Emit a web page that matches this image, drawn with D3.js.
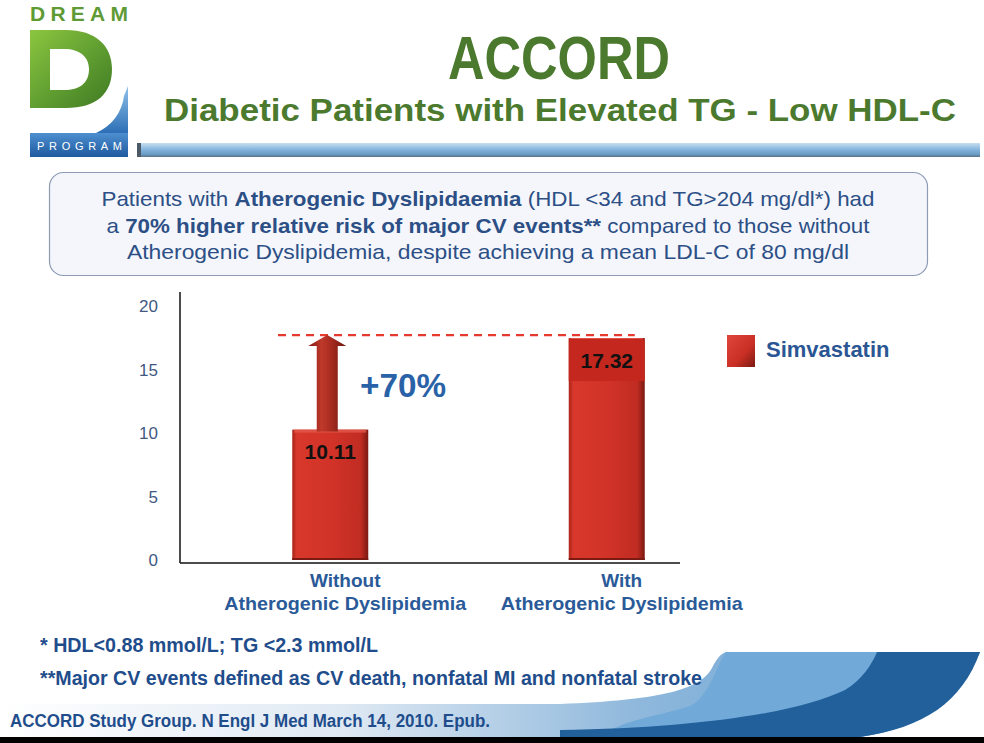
<!DOCTYPE html>
<html>
<head>
<meta charset="utf-8">
<script src="https://cdn.jsdelivr.net/npm/d3@7"></script>
<style>
  html, body { margin: 0; padding: 0; background: #fff; }
  svg { display: block; }
</style>
</head>
<body>
<svg id="chart" width="984" height="743"></svg>
<script>
// ---------- data ----------
const categoriesLine1 = ["Without", "With"];
const categoriesLine2 = ["Atherogenic Dyslipidemia", "Atherogenic Dyslipidemia"];
const simvastatinValues = [10.11, 17.32];
const valueLabels = ["10.11", "17.32"];
const yTicks = [0, 5, 10, 15, 20];
const seriesName = "Simvastatin";
const changeLabel = "+70%";
const titleText = "ACCORD";
const subtitleText = "Diabetic Patients with Elevated TG - Low HDL-C";
const boxLines = [
  [["Patients with ", false], ["Atherogenic Dyslipidaemia", true], [" (HDL <34 and TG>204 mg/dl*) had", false]],
  [["a ", false], ["70% higher relative risk of major CV events**", true], [" compared to those without", false]],
  [["Atherogenic Dyslipidemia, despite achieving a mean LDL-C of 80 mg/dl", false]]
];
const footnotes = ["* HDL<0.88 mmol/L; TG <2.3 mmol/L", "**Major CV events defined as CV death, nonfatal MI and nonfatal stroke"];
const citation = "ACCORD Study Group. N Engl J Med March 14, 2010. Epub.";

// ---------- setup ----------
const svg = d3.select("#chart");
const defs = svg.append("defs");
function linGrad(id, x1, y1, x2, y2, stops) {
  const g = defs.append("linearGradient").attr("id", id)
    .attr("x1", x1).attr("y1", y1).attr("x2", x2).attr("y2", y2);
  stops.forEach(s => g.append("stop").attr("offset", s[0]).attr("stop-color", s[1]));
}
linGrad("barGrad", 0, 0, 1, 0, [[0, "#a9241a"], [0.06, "#d8382b"], [0.5, "#d23328"], [0.9, "#c12c22"], [1, "#7a1a12"]]);
linGrad("arrowGrad", 0, 0, 1, 0, [[0, "#7e1b12"], [0.35, "#c0392b"], [0.6, "#a82b20"], [1, "#6e160f"]]);
linGrad("legGrad", 0, 0, 1, 1, [[0, "#e0463a"], [0.6, "#c92f24"], [1, "#7a1a12"]]);
linGrad("barTitle", 0, 0, 0, 1, [[0, "#c8def0"], [0.45, "#86b6dd"], [0.8, "#6a9cc6"], [1, "#5a7288"]]);
linGrad("dGrad", 0, 0, 1, 1, [[0, "#8cc63f"], [0.5, "#62a032"], [1, "#3f7a22"]]);
linGrad("blueLogo", 0, 0, 0, 1, [[0, "#8fc1ea"], [1, "#2d6fb5"]]);
linGrad("progGrad", 0, 0, 0, 1, [[0, "#4d8fd0"], [1, "#1f5a9e"]]);
linGrad("bandGrad", 0, 0, 1, 0, [[0, "#ffffff"], [0.35, "#dfe9f3"], [0.65, "#8fb8dc"], [1, "#5f9ccf"]]);

// ---------- logo ----------
const logo = svg.append("g");
logo.append("text").attr("x", 30).attr("y", 21).attr("textLength", 98).attr("lengthAdjust", "spacing")
  .attr("font-family", "Liberation Sans, Arial").attr("font-weight", "bold")
  .attr("font-size", 21).attr("fill", "#5f9a35").text("DREAM");
logo.append("path")
  .attr("d", "M30,30 L66,30 C96,30 112,46 112,69 C112,94 96,108 66,108 L30,108 Z M50,49 L64,49 C80,49 89,57 89,69 C89,83 80,90 64,90 L50,90 Z")
  .attr("fill-rule", "evenodd").attr("fill", "url(#dGrad)");
logo.append("path")
  .attr("d", "M128,86 L128,133 L96,133 C112,126 122,112 124,96 Z")
  .attr("fill", "url(#blueLogo)");
logo.append("rect").attr("x", 30).attr("y", 133).attr("width", 98).attr("height", 24).attr("fill", "url(#progGrad)");
logo.append("text").attr("x", 37).attr("y", 150).attr("textLength", 85).attr("lengthAdjust", "spacing")
  .attr("font-family", "Liberation Sans, Arial").attr("font-size", 11).attr("fill", "#ffffff").text("PROGRAM");

// ---------- title ----------
svg.append("text").attr("x", 559).attr("y", 79).attr("text-anchor", "middle")
  .attr("textLength", 222).attr("lengthAdjust", "spacingAndGlyphs")
  .attr("font-family", "Liberation Sans, Arial").attr("font-weight", "bold").attr("font-size", 61)
  .attr("fill", "#4b7a2e").text(titleText);
svg.append("text").attr("x", 560).attr("y", 121).attr("text-anchor", "middle")
  .attr("textLength", 792).attr("lengthAdjust", "spacingAndGlyphs")
  .attr("font-family", "Liberation Sans, Arial").attr("font-weight", "bold").attr("font-size", 31)
  .attr("fill", "#4b7a2e").text(subtitleText);
svg.append("rect").attr("x", 137).attr("y", 143).attr("width", 843).attr("height", 14).attr("fill", "url(#barTitle)");
svg.append("rect").attr("x", 137).attr("y", 143).attr("width", 4).attr("height", 14).attr("fill", "#4c5966");

// ---------- message box ----------
svg.append("rect").attr("x", 49.5).attr("y", 172.5).attr("width", 878).attr("height", 103).attr("rx", 14)
  .attr("fill", "#f4f6fb").attr("stroke", "#8d9bb3").attr("stroke-width", 1.2);
const lineLengths = [773, 763, 722];
boxLines.forEach((parts, i) => {
  const t = svg.append("text").attr("x", 488).attr("y", 206 + i * 26.5).attr("text-anchor", "middle")
    .attr("textLength", lineLengths[i]).attr("lengthAdjust", "spacingAndGlyphs")
    .attr("font-family", "Liberation Sans, Arial").attr("font-size", 21).attr("fill", "#2c4f86");
  parts.forEach(p => t.append("tspan").attr("font-weight", p[1] ? "bold" : "normal").text(p[0]));
});

// ---------- chart ----------
const y = d3.scaleLinear().domain([0, 20]).range([558, 304]);
const xCat = d3.scaleBand().domain(categoriesLine1).range([207, 760]);
const barW = 76;
const barOffset = -15;
const barCx = c => xCat(c) + xCat.bandwidth() / 2 + barOffset;

// y axis labels
const yAxis = d3.axisLeft(y).tickValues(yTicks).tickSize(0).tickPadding(0).tickFormat(d3.format("d"));
const yG = svg.append("g").attr("transform", "translate(158,0)").call(yAxis);
yG.select(".domain").remove();
yG.selectAll("text").attr("font-family", "Liberation Sans, Arial").attr("font-size", 17)
  .attr("fill", "#41597f").attr("dy", "0.45em");

// axes lines
svg.append("line").attr("x1", 180).attr("x2", 180).attr("y1", 292).attr("y2", 563).attr("stroke", "#111").attr("stroke-width", 1.5);
svg.append("line").attr("x1", 180).attr("x2", 680).attr("y1", 563).attr("y2", 563).attr("stroke", "#111").attr("stroke-width", 1.5);

// bars
const bars = svg.append("g");
categoriesLine1.forEach((c, i) => {
  const cx = barCx(c);
  const top = y(simvastatinValues[i]);
  bars.append("rect").attr("x", cx - barW / 2).attr("y", top).attr("width", barW)
    .attr("height", y(0) + 2 - top).attr("fill", "url(#barGrad)");
  bars.append("rect").attr("x", cx - barW / 2 + 2).attr("y", top).attr("width", barW - 4).attr("height", 3)
    .attr("fill", "#e4574b").attr("opacity", 0.8);
  bars.append("rect").attr("x", cx - barW / 2).attr("y", y(0)).attr("width", barW).attr("height", 2).attr("fill", "#7a1a12");
});

// value label box on second bar
const c2 = barCx(categoriesLine1[1]);
bars.append("rect").attr("x", c2 - barW / 2).attr("y", y(simvastatinValues[1]) + 1).attr("width", barW).attr("height", 42)
  .attr("fill", "#c4271d");
svg.append("text").attr("x", c2).attr("y", y(simvastatinValues[1]) + 30).attr("text-anchor", "middle")
  .attr("font-family", "Liberation Sans, Arial").attr("font-weight", "bold").attr("font-size", 21)
  .attr("fill", "#111").text(valueLabels[1]);
const c1 = barCx(categoriesLine1[0]);
svg.append("text").attr("x", c1).attr("y", y(simvastatinValues[0]) + 29).attr("text-anchor", "middle")
  .attr("font-family", "Liberation Sans, Arial").attr("font-weight", "bold").attr("font-size", 21)
  .attr("fill", "#111").text(valueLabels[0]);

// dashed reference line
const refY = y(simvastatinValues[1]) - 3;
svg.append("line").attr("x1", 278).attr("x2", c2 + 28).attr("y1", refY).attr("y2", refY)
  .attr("stroke", "#e53a30").attr("stroke-width", 2.2).attr("stroke-dasharray", "8,6");

// arrow from bar 1 up to level of bar 2
const ax = c1 - 3;
const aBase = y(simvastatinValues[0]) + 2;
const aTip = refY;
const arrowPath = d3.path();
arrowPath.moveTo(ax - 10.5, aBase);
arrowPath.lineTo(ax - 10.5, aTip + 11);
arrowPath.lineTo(ax - 19, aTip + 11);
arrowPath.lineTo(ax, aTip);
arrowPath.lineTo(ax + 19, aTip + 11);
arrowPath.lineTo(ax + 10.5, aTip + 11);
arrowPath.lineTo(ax + 10.5, aBase);
arrowPath.closePath();
svg.append("path").attr("d", arrowPath.toString()).attr("fill", "url(#arrowGrad)");

svg.append("text").attr("x", 360).attr("y", 397)
  .attr("font-family", "Liberation Sans, Arial").attr("font-weight", "bold").attr("font-size", 34)
  .attr("textLength", 86).attr("lengthAdjust", "spacingAndGlyphs")
  .attr("fill", "#2a62a8").text(changeLabel);

// category labels
categoriesLine1.forEach((c, i) => {
  const cx = xCat(c) + xCat.bandwidth() / 2;
  svg.append("text").attr("x", cx).attr("y", 587).attr("text-anchor", "middle")
    .attr("font-family", "Liberation Sans, Arial").attr("font-weight", "bold").attr("font-size", 19)
    .attr("fill", "#2a5a98").text(c);
  svg.append("text").attr("x", cx).attr("y", 610).attr("text-anchor", "middle")
    .attr("textLength", 242).attr("lengthAdjust", "spacingAndGlyphs")
    .attr("font-family", "Liberation Sans, Arial").attr("font-weight", "bold").attr("font-size", 19)
    .attr("fill", "#2a5a98").text(categoriesLine2[i]);
});

// legend
svg.append("rect").attr("x", 727).attr("y", 335).attr("width", 28).attr("height", 32).attr("fill", "url(#legGrad)");
svg.append("text").attr("x", 766).attr("y", 357)
  .attr("font-family", "Liberation Sans, Arial").attr("font-weight", "bold").attr("font-size", 22)
  .attr("fill", "#2a5694").text(seriesName);

// ---------- bottom decoration ----------
svg.append("path").attr("d", "M0,704 L560,704 C660,700 700,690 712,668 C716,660 720,654 726,652 L980,652 C960,700 920,728 860,737 L0,737 Z")
  .attr("fill", "url(#bandGrad)");
svg.append("path").attr("d", "M726,652 L980,652 C960,700 920,728 860,737 L600,737 C620,720 660,716 690,706 C710,696 716,666 726,652 Z")
  .attr("fill", "#71aad8");
svg.append("path").attr("d", "M877,652 L980,652 C962,702 924,728 860,737 L560,737 L560,730 C700,728 800,712 845,690 C862,680 872,664 877,652 Z")
  .attr("fill", "#22609c");
svg.append("rect").attr("x", 0).attr("y", 737).attr("width", 984).attr("height", 6).attr("fill", "#000");

// footnotes
const fnY = [652, 685];
const fnLen = [338, 662];
footnotes.forEach((f, i) => {
  svg.append("text").attr("x", 40).attr("y", fnY[i]).attr("textLength", fnLen[i]).attr("lengthAdjust", "spacingAndGlyphs")
    .attr("font-family", "Liberation Sans, Arial").attr("font-weight", "bold").attr("font-size", 20)
    .attr("fill", "#1f4d8c").text(f);
});
svg.append("text").attr("x", 10).attr("y", 727).attr("textLength", 480).attr("lengthAdjust", "spacingAndGlyphs")
  .attr("font-family", "Liberation Sans, Arial").attr("font-weight", "bold").attr("font-size", 18)
  .attr("fill", "#1f4d8c").text(citation);
</script>
</body>
</html>
